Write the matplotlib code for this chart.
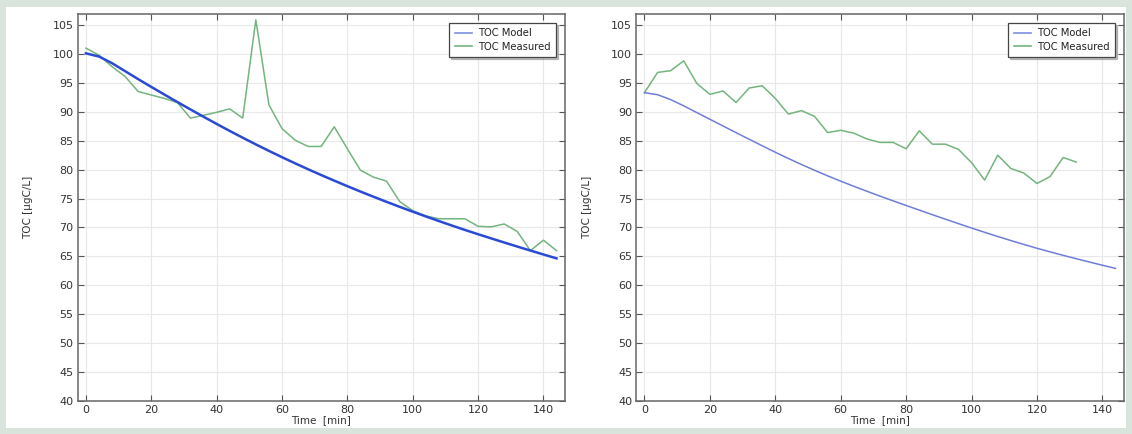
#! /usr/bin/env python3

import numpy as np
import matplotlib.pyplot as plt
from matplotlib.lines import Line2D
from matplotlib.patches import Rectangle

# measurement times [min]
t_meas_left = list(range(0, 145, 4))
t_meas_right = list(range(0, 133, 4))
t_model = list(range(0, 145, 4))

# left panel
toc_meas_left = [101.0, 99.8, 97.8, 96.1, 93.5, 92.9, 92.3, 91.6, 88.9, 89.4,
                 89.9, 90.5, 88.9, 105.9, 91.2, 87.1, 85.1, 84.0, 84.0, 87.4,
                 83.6, 79.9, 78.7, 78.0, 74.5, 72.9, 72.0, 71.5, 71.5, 71.5,
                 70.2, 70.1, 70.6, 69.3, 66.0, 67.8, 66.0]
toc_model_left = [100.1, 99.55, 98.4, 97.02, 95.64, 94.3, 92.98, 91.68, 90.4, 89.14,
                  87.9, 86.69, 85.51, 84.36, 83.24, 82.15, 81.09, 80.06, 79.06, 78.09,
                  77.14, 76.21, 75.31, 74.43, 73.57, 72.73, 71.91, 71.11, 70.33, 69.57,
                  68.83, 68.11, 67.4, 66.7, 66.01, 65.33, 64.66]

# right panel
toc_meas_right = [93.3, 96.8, 97.1, 98.8, 94.9, 93.0, 93.6, 91.6, 94.1, 94.5,
                  92.3, 89.6, 90.2, 89.2, 86.4, 86.8, 86.3, 85.3, 84.7, 84.7,
                  83.6, 86.7, 84.4, 84.4, 83.5, 81.2, 78.2, 82.5, 80.2, 79.4,
                  77.6, 78.8, 82.1, 81.3]
toc_model_right = [93.3, 92.95, 92.1, 91.02, 89.86, 88.7, 87.54, 86.39, 85.25, 84.12,
                   83.0, 81.92, 80.88, 79.88, 78.92, 78.0, 77.12, 76.26, 75.42, 74.6,
                   73.8, 73.0, 72.21, 71.43, 70.66, 69.9, 69.16, 68.44, 67.74, 67.06,
                   66.4, 65.78, 65.18, 64.6, 64.03, 63.47, 62.92]

xticks = [0, 20, 40, 60, 80, 100, 120, 140]
yticks = list(range(40, 106, 5))

green = '#74b47e'
legend_blue = '#7d8ee2'

fig = plt.figure(figsize=(11.32, 4.34), dpi=100)
fig.patch.set_facecolor('#d9e4dc')
fig.patches.append(Rectangle((6/1132, 6/434), 1120/1132, 421/434,
                             transform=fig.transFigure, facecolor='white',
                             edgecolor='none', zorder=-1))

def setup(ax):
	ax.set_xlim(-2.5, 146.6)
	ax.set_ylim(40, 106.9)
	ax.set_xticks(xticks)
	ax.set_yticks(yticks)
	ax.grid(True, color='#e8e8e8', linewidth=0.8)
	ax.set_axisbelow(True)
	ax.tick_params(direction='in', length=4, width=0.8, color='#555555',
	               labelsize=8, labelcolor='#333333', top=True, right=True, pad=3)
	for s in ax.spines.values():
		s.set_color('#666666')
		s.set_linewidth(1.1)
	ax.set_xlabel('Time  [min]', fontsize=7.5, color='#333333', labelpad=0)
	ax.set_ylabel('TOC [µgC/L]', fontsize=7.5, color='#333333', labelpad=14)
	handles = [Line2D([], [], color=legend_blue, lw=1.2),
	           Line2D([], [], color=green, lw=1.2)]
	leg = ax.legend(handles, ['TOC Model', 'TOC Measured'], loc='upper right',
	                fontsize=7.2, fancybox=False, framealpha=1, borderaxespad=0.9,
	                handlelength=1.7, handletextpad=0.6, borderpad=0.55,
	                labelspacing=0.3,
	                shadow={'ox': 1.2, 'oy': -1.2, 'color': '#777777', 'alpha': 0.45})
	leg.get_frame().set_edgecolor('#444444')
	leg.get_frame().set_linewidth(0.9)
	for txt in leg.get_texts():
		txt.set_color('#222222')

ax1 = fig.add_axes([77.7/1132, 33/434, (565-77.7)/1132, 387/434])
ax1.plot(t_model, toc_model_left, color='#2a4ad6', lw=1.8, zorder=3)
ax1.plot(t_meas_left, toc_meas_left, color=green, lw=1.1, zorder=2)
setup(ax1)

ax2 = fig.add_axes([636.3/1132, 33/434, (1124-636.3)/1132, 387/434])
ax2.plot(t_model, toc_model_right, color='#6e7ed8', lw=1.1, zorder=3)
ax2.plot(t_meas_right, toc_meas_right, color=green, lw=1.1, zorder=2)
setup(ax2)

plt.savefig('out.png', dpi=100, facecolor=fig.get_facecolor())
plt.close()
